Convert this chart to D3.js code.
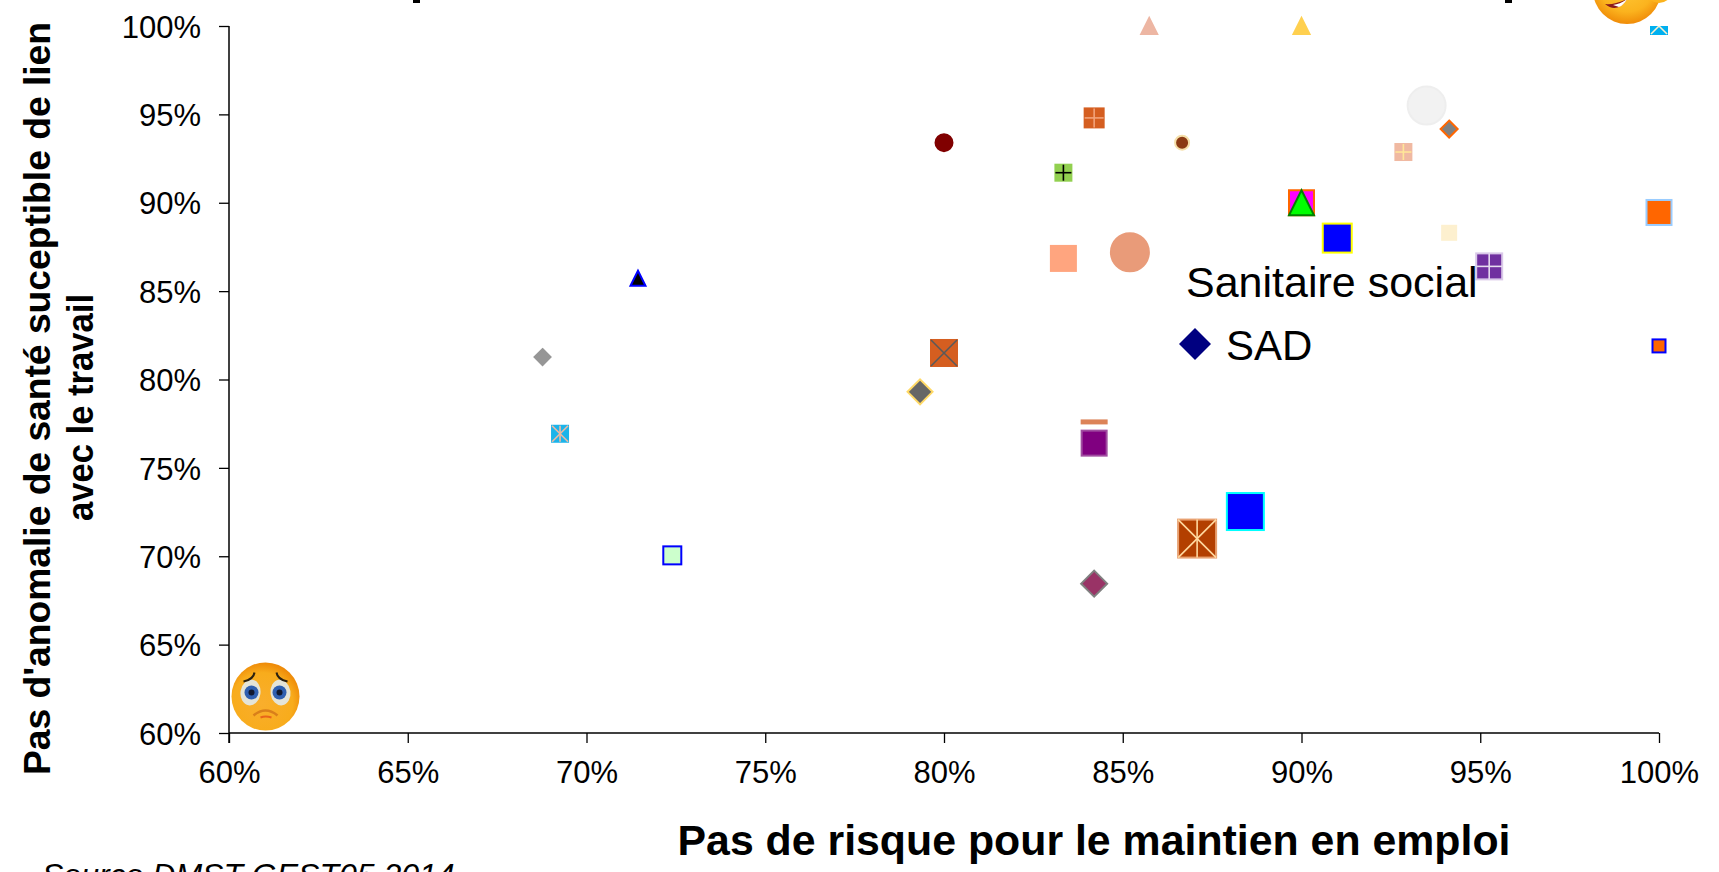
<!DOCTYPE html>
<html>
<head>
<meta charset="utf-8">
<script src="https://cdn.jsdelivr.net/npm/d3@7"></script>
<style>
body { margin: 0; background: #fff; overflow: hidden; }
text { font-family: "Liberation Sans", Arial, sans-serif; fill: #000; }
.tick text { font-size: 31px; }
</style>
</head>
<body>
<div id="chart-area"></div>
<script>
// Data
const xTicks = [0.60, 0.65, 0.70, 0.75, 0.80, 0.85, 0.90, 0.95, 1.00]
const yTicks = [0.60, 0.65, 0.70, 0.75, 0.80, 0.85, 0.90, 0.95, 1.00]
const xValues = [0.8574, 0.9000, 1.0000, 0.8420, 0.8000, 0.8666, 0.9350, 0.9413, 0.9285, 0.8334, 0.9000, 0.9000, 1.0000, 0.9100, 0.9413, 0.8334, 0.8520, 0.9525, 0.7144, 1.0000, 0.6877, 0.8000, 0.7933, 0.6926, 0.8420, 0.8420, 0.8843, 0.8708, 0.8420, 0.7240]
const yValues = [1.0000, 1.0000, 1.0000, 0.9480, 0.9340, 0.9340, 0.9550, 0.9417, 0.9287, 0.9170, 0.9000, 0.9000, 0.8945, 0.8800, 0.8830, 0.8685, 0.8720, 0.8640, 0.8573, 0.8190, 0.8127, 0.8150, 0.7930, 0.7693, 0.7760, 0.7640, 0.7253, 0.7100, 0.6845, 0.7005]
const shapes = ["tri", "tri", "sq", "sq", "circle", "circle", "circle", "diamond", "sq", "sq", "sq", "tri", "sq", "sq", "sq", "sq", "circle", "sq", "tri", "sq", "diamond", "sq", "diamond", "sq", "dash", "sq", "sq", "sq", "diamond", "sq"]
const sizes = [18, 18, 18, 21, 19, 16, 40, 19, 18, 18, 27, 27, 27, 31, 16, 27, 40, 28, 17, 15, 18, 28, 27, 18, 27, 27, 39, 40, 28, 20]
const fills = ["#EDB6A3", "#FFD04F", "#00B0F0", "#D55E20", "#800000", "#8B3A14", "#F2F2F2", "#808080", "#F0B9A2", "#92D050", "#FF00FF", "#00FF00", "#FF6600", "#0000FF", "#FDF0CF", "#FFA57F", "#E99B79", "#7030A0", "#000000", "#FF6600", "#969696", "#D55E20", "#666666", "#1CB4EA", "#DC8358", "#800080", "#0000FF", "#B33F00", "#993366", "#CCFFCC"]
const strokes = ["#EDB6A3", "#FFD04F", "#00B0F0", "#D55E20", "#800000", "#F5DFA8", "#EEEEEE", "#FF6600", "#F0B9A2", "#92D050", "#FF6600", "#008000", "#99CCFF", "#FFFF00", "#FDF0CF", "#FFA57F", "#E99B79", "#D9C8E8", "#0000FF", "#0000FF", "#969696", "#D55E20", "#FFD966", "#1CB4EA", "#DC8358", "#A04DA0", "#00FFFF", "#E8A070", "#808080", "#0000FF"]
const marks = ["", "", "caret", "plus", "", "", "", "", "plus", "plus", "", "", "", "", "", "", "", "plus", "", "", "", "x", "", "star", "", "", "", "star", "", ""]
const markColors = ["", "", "#FDF0CF", "#F2A27A", "", "", "", "", "#FFE699", "#000000", "", "", "", "", "", "", "", "#E6DCEF", "", "", "", "#595959", "", "#F0B9A2", "", "", "", "#FFD9A0", "", ""]
const legendLabels = ["Sanitaire social", "SAD"]

// Config
const margin = {top: 26, left: 229}
const width = 1430, height = 707

const svg = d3.select("#chart-area")
	.append("svg")
		.attr("width", 1719)
		.attr("height", 872)

const g = svg.append("g")
	.attr("transform", "translate(" + margin.left + ", " + margin.top + ")")

// Scales
const x = d3.scaleLinear().domain([0.6, 1]).range([0, width])
const y = d3.scaleLinear().domain([0.6, 1]).range([height, 0])

// Axis
const pct = d3.format(".0%")
const xAxis = d3.axisBottom(x).tickValues(xTicks).tickFormat(pct).tickSize(10).tickPadding(18)
const yAxis = d3.axisLeft(y).tickValues(yTicks).tickFormat(pct).tickSize(10).tickPadding(18)

const x_axis = g.append("g").attr("class", "x axis").attr("transform", "translate(0, " + height + ")").call(xAxis)
const y_axis = g.append("g").attr("class", "y axis").call(yAxis)
g.selectAll(".axis path").attr("stroke", "#000").attr("stroke-width", 1.5)
g.selectAll(".axis line").attr("stroke", "#000").attr("stroke-width", 1.3)
x_axis.select("path").attr("d", "M0,0H" + width)
y_axis.select("path").attr("d", "M0,0V" + (height + 10))
y_axis.selectAll(".tick text").attr("dy", "0.36em")

// Markers
const indexes = d3.range(xValues.length)
const marker = g.selectAll(".marker").data(indexes).enter().append("g")
	.attr("class", "marker")
	.attr("transform", i => "translate(" + x(xValues[i]) + ", " + y(yValues[i]) + ")")

marker.each(function(i) {
	const m = d3.select(this), s = sizes[i] / 2 - 1
	drawShape(m, shapes[i], s).attr("fill", fills[i]).attr("stroke", strokes[i]).attr("stroke-width", 2)
	if (marks[i]) drawMark(m, marks[i], s, markColors[i])
})

function drawShape(m, shape, s) {
	if (shape === "circle") return m.append("circle").attr("r", s)
	if (shape === "diamond") return m.append("path").attr("d", "M0," + -s + "L" + s + ",0L0," + s + "L" + -s + ",0Z")
	if (shape === "tri") return m.append("path").attr("d", "M0," + -s + "L" + s + "," + s + "L" + -s + "," + s + "Z")
	if (shape === "dash") return m.append("rect").attr("x", -s).attr("y", -1.5).attr("width", 2 * s).attr("height", 3)
	return m.append("rect").attr("x", -s).attr("y", -s).attr("width", 2 * s).attr("height", 2 * s)
}

function drawMark(m, type, s, color) {
	const lines = []
	if (type === "plus" || type === "star") lines.push([0, -s, 0, s])
	if (type === "plus") lines.push([-s, 0, s, 0])
	if (type === "x" || type === "star") lines.push([-s, -s, s, s], [-s, s, s, -s])
	if (type === "caret") lines.push([-s, s, 0, 0], [0, 0, s, s])
	m.selectAll(".mark").data(lines).enter().append("line")
		.attr("x1", d => d[0]).attr("y1", d => d[1]).attr("x2", d => d[2]).attr("y2", d => d[3])
		.attr("stroke", color).attr("stroke-width", 1.6)
}

// Legend
svg.append("text").text(legendLabels[0]).attr("x", 1186).attr("y", 297).style("font-size", "43px")
svg.append("text").text(legendLabels[1]).attr("x", 1226).attr("y", 360).style("font-size", "42px")
svg.append("path").attr("transform", "translate(1195, 344)").attr("d", "M0,-16L16,0L0,16L-16,0Z").attr("fill", "#000080")

// Axis titles
svg.append("text").text("Pas de risque pour le maintien en emploi")
	.attr("x", 1094).attr("y", 855).attr("text-anchor", "middle")
	.attr("textLength", 833).attr("lengthAdjust", "spacingAndGlyphs")
	.style("font-size", "42px").style("font-weight", "bold")
svg.append("text").text("Pas d'anomalie de santé suceptible de lien")
	.attr("transform", "translate(50, 398.5) rotate(-90)").attr("text-anchor", "middle")
	.attr("textLength", 753).attr("lengthAdjust", "spacingAndGlyphs")
	.style("font-size", "36px").style("font-weight", "bold")
svg.append("text").text("avec le travail")
	.attr("transform", "translate(93, 407.5) rotate(-90)").attr("text-anchor", "middle")
	.attr("textLength", 227).attr("lengthAdjust", "spacingAndGlyphs")
	.style("font-size", "36px").style("font-weight", "bold")

// Source, cut by the bottom edge like the reference
svg.append("text").text("Source DMST GEST05 2014")
	.attr("x", 42).attr("y", 886).style("font-size", "32px").style("font-style", "italic")

// Bits of the cut-off title left at the top edge
svg.selectAll(".title-bit").data([416, 1508]).enter().append("rect")
	.attr("class", "title-bit").attr("x", d => d - 3).attr("y", 0).attr("width", 7).attr("height", 3).attr("fill", "#000")

// Smileys
const defs = svg.append("defs")
const grad = defs.append("radialGradient").attr("id", "face").attr("cx", "50%").attr("cy", "40%").attr("r", "60%")
grad.append("stop").attr("offset", "0%").attr("stop-color", "#FFCB3A")
grad.append("stop").attr("offset", "70%").attr("stop-color", "#FBB31E")
grad.append("stop").attr("offset", "100%").attr("stop-color", "#F08C08")
const gradSad = defs.append("radialGradient").attr("id", "face-sad").attr("cx", "45%").attr("cy", "60%").attr("r", "60%")
gradSad.append("stop").attr("offset", "0%").attr("stop-color", "#F9AE2C")
gradSad.append("stop").attr("offset", "75%").attr("stop-color", "#F8AC1C")
gradSad.append("stop").attr("offset", "100%").attr("stop-color", "#EE8A08")

const sad = svg.append("g").attr("transform", "translate(265.5, 696.5)")
sad.append("circle").attr("r", 34).attr("fill", "url(#face-sad)")
;[-1, 1].forEach(k => {
	sad.append("ellipse").attr("cx", k * 15).attr("cy", -4).attr("rx", 10).attr("ry", 13).attr("fill", "#E4E4D8")
		.attr("transform", "rotate(" + k * -8 + " " + k * 15 + " -4)")
	sad.append("circle").attr("cx", k * 14).attr("cy", -4).attr("r", 7).attr("fill", "#2F5FB0")
	sad.append("circle").attr("cx", k * 14).attr("cy", -4).attr("r", 3).attr("fill", "#10182F")
	sad.append("path").attr("d", "M" + k * 22 + ",-15Q" + k * 12 + ",-17 " + k * 11 + ",-24").attr("fill", "none").attr("stroke", "#2A2010").attr("stroke-width", 2)
})
sad.append("path").attr("d", "M-12,19Q0,9 12,19").attr("fill", "none").attr("stroke", "#D97F1A").attr("stroke-width", 2.5)
sad.append("path").attr("d", "M-5,21Q0,19 6,21").attr("fill", "none").attr("stroke", "#E8641A").attr("stroke-width", 2)

const happy = svg.append("g").attr("transform", "translate(1627, -10)")
happy.append("rect").attr("x", -36).attr("y", -36).attr("width", 90).attr("height", 72).attr("fill", "#fff")
happy.append("circle").attr("r", 34).attr("fill", "url(#face)")
happy.append("path").attr("d", "M-22,14Q-10,24 0,9Q-12,15 -22,14Z").attr("fill", "#8B1A1A")
happy.append("path").attr("d", "M-14,15Q-6,14 0,9Q-3,15 -8,17Z").attr("fill", "#FFF")
happy.append("ellipse").attr("cx", 32).attr("cy", 3).attr("rx", 12).attr("ry", 10).attr("fill", "#FBB31E")
</script>
</body>
</html>
